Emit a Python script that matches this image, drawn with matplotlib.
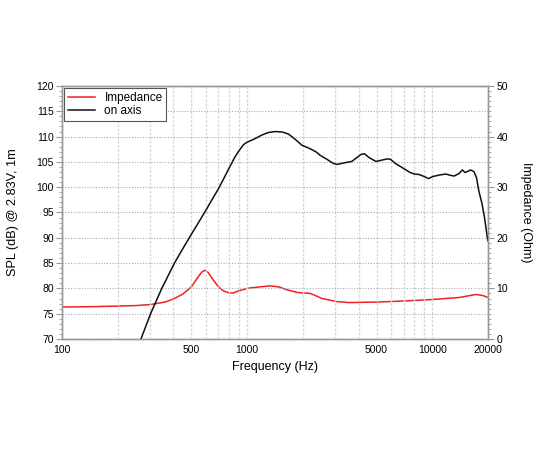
import matplotlib
matplotlib.use("Agg")
import matplotlib.pyplot as plt
from matplotlib.ticker import FixedLocator, NullFormatter, MultipleLocator

plt.rcParams['font.family'] = ['Liberation Sans', 'DejaVu Sans']

# SPL on axis (dB)
spl_freq = [267, 301, 346, 405, 462, 500, 550, 600, 650, 700, 750, 800, 860, 900, 955, 1000,
            1090, 1200, 1300, 1416, 1550, 1672, 1800, 1975, 2190, 2350, 2481, 2700, 2920, 3050,
            3340, 3680, 3900, 4130, 4300, 4580, 4960, 5270, 5710, 5950, 6320, 7000, 7600, 8000,
            8500, 9050, 9550, 10050, 10900, 11850, 12350, 13100, 13950, 14550, 15040, 16100,
            16770, 17330, 17830, 18570, 19190, 19830, 20000]
spl_db = [70.0, 75.0, 80.0, 85.0, 88.6, 90.7, 93.2, 95.5, 97.7, 99.7, 101.8, 103.8, 106.0, 107.1, 108.4, 108.9,
          109.5, 110.3, 110.8, 111.0, 110.9, 110.5, 109.6, 108.3, 107.6, 107.0, 106.3, 105.5, 104.7, 104.5,
          104.8, 105.1, 105.8, 106.5, 106.6, 105.8, 105.1, 105.3, 105.6, 105.5, 104.7, 103.7, 102.9, 102.6,
          102.5, 102.1, 101.7, 102.1, 102.4, 102.6, 102.4, 102.2, 102.7, 103.4, 102.9, 103.4,
          103.1, 101.9, 99.3, 96.7, 93.8, 90.0, 89.4]

# Impedance (Ohm)
imp_freq = [100, 150, 200, 250, 300, 360, 400, 450, 500, 535, 568, 590, 614, 652, 700, 744, 800, 840,
            900, 1000, 1040, 1250, 1332, 1480, 1650, 1860, 2200, 2540, 3030, 3560, 5000, 6950, 10000,
            14000, 17200, 18700, 20000]
imp_ohm = [6.3, 6.4, 6.5, 6.6, 6.8, 7.3, 7.9, 8.9, 10.3, 11.9, 13.2, 13.6, 13.2, 11.8, 10.3, 9.5, 9.1, 9.1,
           9.5, 10.0, 10.1, 10.4, 10.5, 10.3, 9.7, 9.2, 9.0, 8.0, 7.4, 7.2, 7.3, 7.5, 7.8,
           8.2, 8.8, 8.6, 8.2]

x_labels = [100, 500, 1000, 5000, 10000, 20000]
x_grid = [200, 300, 400, 500, 600, 700, 800, 900, 1000, 2000, 3000, 4000, 5000,
          6000, 7000, 8000, 9000, 10000, 20000]

fig = plt.figure(figsize=(5.5, 4.5), dpi=100)
ax = fig.add_axes([0.1127, 0.2467, 0.7746, 0.5622])
ax2 = ax.twinx()

spine_col = '#999999'
for a in (ax, ax2):
    for s in a.spines.values():
        s.set_color(spine_col)
        s.set_linewidth(1.0)

ax.set_xscale('log')
ax.set_xlim(100, 20000)
ax.set_ylim(70, 120)
ax2.set_ylim(0, 50)

ax.xaxis.set_major_locator(FixedLocator(x_labels))
ax.set_xticklabels([str(v) for v in x_labels])
ax.xaxis.set_minor_locator(FixedLocator([]))
ax.xaxis.set_minor_formatter(NullFormatter())

for xv in x_grid:
    ax.axvline(xv, color='#d8d8d8', lw=1.0, ls=(0, (2, 1)), zorder=0)

ax.yaxis.set_major_locator(MultipleLocator(5))
ax.yaxis.set_minor_locator(MultipleLocator(1))
ax.grid(axis='y', which='major', color='#aaaaaa', ls=(0, (1, 1.5)), lw=0.8)
ax2.yaxis.set_major_locator(MultipleLocator(10))
ax2.yaxis.set_minor_locator(MultipleLocator(1))

ax.tick_params(axis='both', which='major', labelsize=7.5, length=4, color=spine_col, pad=2)
ax.tick_params(axis='y', which='minor', length=2, color=spine_col)
ax.tick_params(axis='x', which='major', length=0, pad=4)
ax2.tick_params(axis='y', which='major', labelsize=7.5, length=4, color=spine_col, pad=2)
ax2.tick_params(axis='y', which='minor', length=2, color=spine_col)

l1, = ax2.plot(imp_freq, imp_ohm, color='#ee2222', lw=1.1)
l2, = ax.plot(spl_freq, spl_db, color='#111111', lw=1.1)
ax.set_zorder(ax2.get_zorder() + 1)
ax.patch.set_visible(False)

ax.set_xlabel('Frequency (Hz)', fontsize=9, labelpad=5)
ax.set_ylabel('SPL (dB) @ 2.83V, 1m', fontsize=9.2, labelpad=12)
ax2.set_ylabel('Impedance (Ohm)', fontsize=9, rotation=270, labelpad=17)

leg = ax.legend([l1, l2], ['Impedance', 'on axis'], loc='upper left', fontsize=8.5,
                frameon=True, fancybox=False, borderaxespad=0.2, handlelength=2.3,
                borderpad=0.3, labelspacing=0.1, handletextpad=0.8)
leg.get_frame().set_edgecolor('#555555')
leg.get_frame().set_linewidth(0.8)
leg.get_frame().set_alpha(1)

fig.savefig('out.png', dpi=100)
